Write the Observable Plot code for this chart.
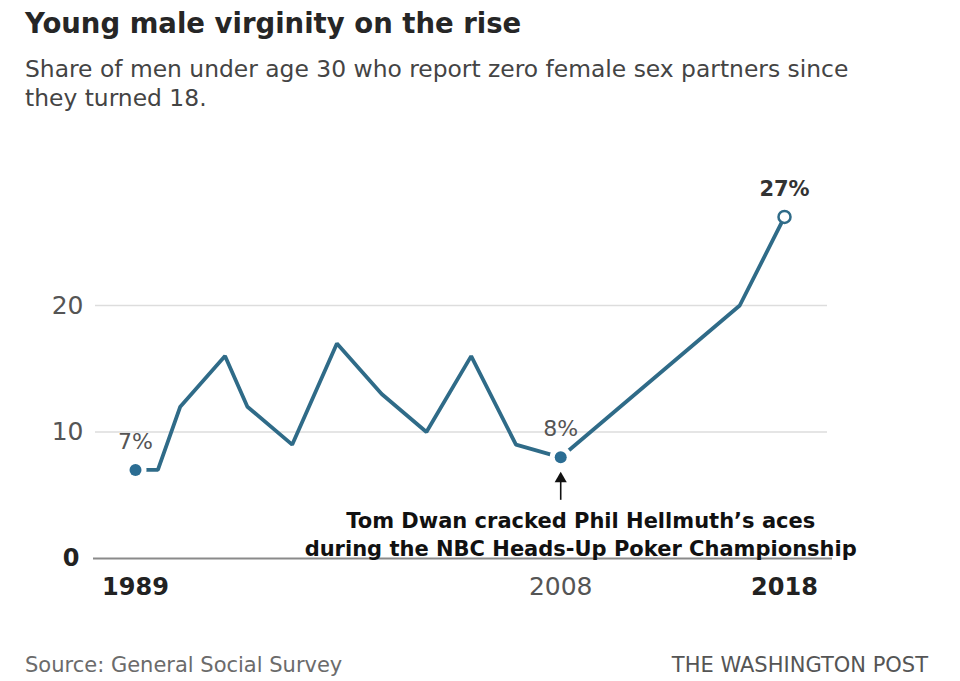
<!DOCTYPE html>
<html>
<head>
<meta charset="utf-8">
<script src="https://cdn.jsdelivr.net/npm/d3@7"></script>
<script src="https://cdn.jsdelivr.net/npm/@observablehq/plot@0.6"></script>
<style>
  html, body { margin: 0; padding: 0; background: #fff; }
  body { width: 960px; height: 681px; position: relative; font-family: "DejaVu Sans", sans-serif; overflow: hidden; }
  #header { height: 130px; position: relative; }
  #title { position: absolute; left: 25px; top: 7px; font-size: 27.5px; line-height: 32px; font-weight: bold; color: #262626; white-space: nowrap; }
  #subtitle { position: absolute; left: 25px; top: 55px; font-size: 23.4px; line-height: 29px; color: #444; width: 935px; white-space: nowrap; }
  #chart svg { display: block; }
  #source { position: absolute; left: 25px; top: 653px; font-size: 21px; color: #6b6b6b; white-space: nowrap; }
  #brand { position: absolute; right: 32px; top: 653px; font-size: 21px; color: #555; white-space: nowrap; }
</style>
</head>
<body>
<div id="header">
  <div id="title">Young male virginity on the rise</div>
  <div id="subtitle">Share of men under age 30 who report zero female sex partners since<br>they turned 18.</div>
</div>
<div id="chart"></div>
<div id="source">Source: General Social Survey</div>
<div id="brand">THE WASHINGTON POST</div>
<script>
// Data
const years  = [1989, 1990, 1991, 1993, 1994, 1996, 1998, 2000, 2002, 2004, 2006, 2008, 2016, 2018];
const shares = [7, 7, 12, 16, 12, 9, 17, 13, 10, 16, 9, 8, 20, 27];

const yTicksRegular = [10, 20];
const yTicksBold = [0];
const xTicksRegular = [2008];
const xTicksBold = [1989, 2018];

const labelYears = [1989, 2008];      // regular value labels with filled dots
const finalYear = [2018];             // bold label, open dot
const annotationText = "Tom Dwan cracked Phil Hellmuth\u2019s aces\nduring the NBC Heads-Up Poker Championship";
const annotationYear = 2008;
const arrowFrom = 4.6, arrowTo = 6.3;

const data = years.map((y, i) => ({year: y, value: shares[i]}));
const byYear = new Map(data.map(d => [d.year, d]));
const labelled = labelYears.map(y => byYear.get(y));
const last = finalYear.map(y => byYear.get(y));

const lineColor = "#2f6b88";
const dotColor = "#2b6d93";
const fmt = d3.format("d");

const chart = Plot.plot({
  width: 960,
  height: 510,
  marginLeft: 135,
  marginRight: 176,
  marginTop: 48.5,
  marginBottom: 82,
  style: {fontFamily: "DejaVu Sans, sans-serif", background: "#fff"},
  x: {domain: [1989, 2018], axis: null},
  y: {domain: [0, 30], axis: null},
  marks: [
    Plot.ruleY(yTicksRegular, {stroke: "#ddd", strokeWidth: 1.5, insetLeft: -40, insetRight: -43}),
    Plot.ruleY(yTicksBold, {stroke: "#8a8a8a", strokeWidth: 2, insetLeft: -42, insetRight: -48}),
    Plot.axisY(yTicksRegular, {anchor: "left", label: null, tickSize: 0, tickPadding: 52, fontSize: 25, fill: "#555", tickFormat: fmt}),
    Plot.axisY(yTicksBold, {anchor: "left", label: null, tickSize: 0, tickPadding: 56, fontSize: 24, fontWeight: "bold", fill: "#222", tickFormat: fmt}),
    Plot.axisX(xTicksRegular, {anchor: "bottom", label: null, tickSize: 0, tickPadding: 19, fontSize: 25, fill: "#555", tickFormat: fmt}),
    Plot.axisX(xTicksBold, {anchor: "bottom", label: null, tickSize: 0, tickPadding: 19, fontSize: 24, fontWeight: "bold", fill: "#222", tickFormat: fmt}),
    Plot.line(data, {x: "year", y: "value", stroke: lineColor, strokeWidth: 3.8, strokeLinejoin: "miter"}),
    Plot.dot(labelled, {x: "year", y: "value", r: 11, fill: "#fff"}),
    Plot.dot(labelled, {x: "year", y: "value", r: 6, fill: dotColor}),
    Plot.dot(last, {x: "year", y: "value", r: 6, fill: "#fff", stroke: lineColor, strokeWidth: 2.5}),
    Plot.text(labelled, {x: "year", y: "value", text: d => d.value + "%", dy: -28, fontSize: 22, fill: "#555"}),
    Plot.text(last, {x: "year", y: "value", text: d => d.value + "%", dy: -28, fontSize: 21, fontWeight: "bold", fill: "#333"}),
    Plot.ruleX([annotationYear], {y1: arrowFrom, y2: arrowTo, stroke: "#111", strokeWidth: 1.6}),
    Plot.dot([annotationYear], {x: d => d, y: arrowTo, symbol: "triangle", r: 4.5, fill: "#111"}),
    Plot.text([annotationYear], {x: d => d, y: 8, text: () => annotationText, dx: 20, dy: 76, fontSize: 21, fontWeight: "bold", fill: "#111", lineHeight: 1.33, textAnchor: "middle", lineAnchor: "middle"})
  ]
});
document.getElementById("chart").appendChild(chart);
</script>
</body>
</html>
